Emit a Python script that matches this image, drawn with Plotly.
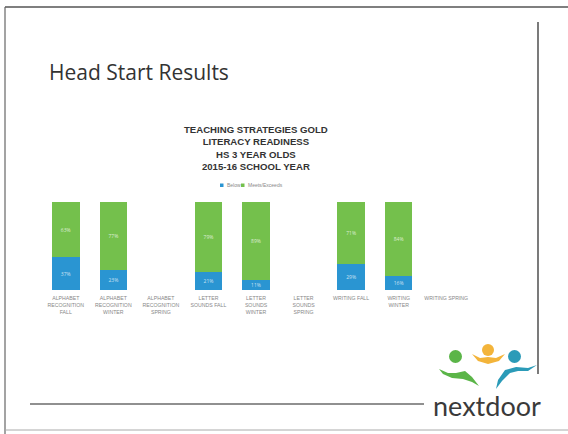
import plotly.graph_objects as go

categories = [
    "ALPHABET<br>RECOGNITION<br>FALL",
    "ALPHABET<br>RECOGNITION<br>WINTER",
    "ALPHABET<br>RECOGNITION<br>SPRING",
    "LETTER<br>SOUNDS FALL",
    "LETTER<br>SOUNDS<br>WINTER",
    "LETTER<br>SOUNDS<br>SPRING",
    "WRITING FALL",
    "WRITING<br>WINTER",
    "WRITING SPRING",
]
below = [37, 23, None, 21, 11, None, 29, 16, None]
meets = [63, 77, None, 79, 89, None, 71, 84, None]
series_names = ["Below", "Meets/Exceeds"]

W, H = 568, 434
def px(x): return x / W
def py(y): return 1 - y / H

blue = "#2a95d2"
green = "#74c04c"

fig = go.Figure()
for vals, name, col in [(below, series_names[0], blue), (meets, series_names[1], green)]:
    fig.add_trace(go.Bar(
        x=categories, y=vals, name=name, marker_color=col, marker_line_width=0,
        text=[f"{v}%" if v is not None else "" for v in vals],
        textposition="inside", insidetextanchor="middle",
        textfont=dict(size=5, color="rgba(255,255,255,0.75)"),
        showlegend=False,
    ))

shapes = [
    # slide frame
    dict(type="line", xref="paper", yref="paper", x0=px(5), x1=px(568), y0=py(7), y1=py(7),
         line=dict(color="#555", width=1.5)),
    dict(type="line", xref="paper", yref="paper", x0=px(5), x1=px(5), y0=py(7), y1=py(434),
         line=dict(color="#666", width=1.2)),
    dict(type="line", xref="paper", yref="paper", x0=px(5), x1=px(568), y0=py(430), y1=py(430),
         line=dict(color="#aaa", width=1)),
    # right vertical rule
    dict(type="line", xref="paper", yref="paper", x0=px(538), x1=px(538), y0=py(22), y1=py(374),
         line=dict(color="#222", width=1.2)),
    # bottom rule
    dict(type="line", xref="paper", yref="paper", x0=px(30), x1=px(424), y0=py(404), y1=py(404),
         line=dict(color="#222", width=1.2)),
    # legend squares
    dict(type="rect", xref="paper", yref="paper", x0=px(220), x1=px(223.5), y0=py(187), y1=py(183.5),
         fillcolor=blue, line_width=0),
    dict(type="rect", xref="paper", yref="paper", x0=px(241), x1=px(244.5), y0=py(187), y1=py(183.5),
         fillcolor=green, line_width=0),
    # logo heads
    dict(type="circle", xref="paper", yref="paper", x0=px(449), x1=px(462), y0=py(350), y1=py(363),
         fillcolor="#5bb548", line_width=0),
    dict(type="circle", xref="paper", yref="paper", x0=px(482), x1=px(494), y0=py(344), y1=py(356),
         fillcolor="#f3b43a", line_width=0),
    dict(type="circle", xref="paper", yref="paper", x0=px(508), x1=px(521), y0=py(350), y1=py(363),
         fillcolor="#2b9bb8", line_width=0),
]
def path(pts):
    return "M " + " L ".join(f"{px(x):.4f},{py(y):.4f}" for x, y in pts) + " Z"
shapes += [
    dict(type="path", xref="paper", yref="paper",
         path=path([(439, 369), (448, 373), (456, 373), (465, 371), (472, 377), (479, 386),
                    (472, 382), (463, 379), (452, 378), (443, 374)]),
         fillcolor="#5bb548", line_width=0),
    dict(type="path", xref="paper", yref="paper",
         path=path([(472, 354), (480, 358), (488, 357), (496, 358), (505, 354), (499, 361),
                    (488, 364), (478, 361)]),
         fillcolor="#f3b43a", line_width=0),
    dict(type="path", xref="paper", yref="paper",
         path=path([(537, 365), (528, 371), (518, 371), (510, 373), (502, 381), (496, 389),
                    (498, 380), (505, 370), (516, 367), (528, 368)]),
         fillcolor="#2b9bb8", line_width=0),
]

font_arial = "Liberation Sans, Arial, sans-serif"
annotations = [
    dict(text="Head Start Results", xref="paper", yref="paper", x=px(47), y=py(72),
         xanchor="left", yanchor="middle", showarrow=False,
         font=dict(family="Open Sans, Noto Sans, sans-serif", size=21, color="#333")),
    dict(text="TEACHING STRATEGIES GOLD<br>LITERACY READINESS<br>HS 3 YEAR OLDS<br>2015-16 SCHOOL YEAR",
         xref="paper", yref="paper", x=px(256), y=py(148), xanchor="center", yanchor="middle",
         showarrow=False, align="center",
         font=dict(family=font_arial, size=9.6, color="#333", weight="bold")),
    dict(text=series_names[0], xref="paper", yref="paper", x=px(224.5), y=py(185.3),
         xanchor="left", yanchor="middle", showarrow=False,
         font=dict(family=font_arial, size=5, color="#888")),
    dict(text=series_names[1], xref="paper", yref="paper", x=px(245.5), y=py(185.3),
         xanchor="left", yanchor="middle", showarrow=False,
         font=dict(family=font_arial, size=5, color="#888")),
    dict(text="nextdoor", xref="paper", yref="paper", x=px(487), y=py(405),
         xanchor="center", yanchor="middle", showarrow=False,
         font=dict(family="Lato, Noto Sans, sans-serif", size=27, color="#3a3a3a")),
]

fig.update_layout(
    width=W, height=H,
    margin=dict(l=0, r=0, t=0, b=0),
    paper_bgcolor="white", plot_bgcolor="white",
    barmode="stack", bargap=0.42,
    showlegend=False,
    xaxis=dict(domain=[px(42), px(470)], showgrid=False, zeroline=False, showline=False,
               ticks="", tickangle=0, ticklabelstandoff=4,
               tickfont=dict(size=5.2, color="#888", family=font_arial)),
    yaxis=dict(domain=[py(290), py(202)], range=[0, 100], visible=False),
    shapes=shapes,
    annotations=annotations,
    uniformtext=dict(minsize=4, mode="show"),
)

fig.write_html("out.html", config={"displayModeBar": False},
               post_script="document.body.style.margin='0';")
